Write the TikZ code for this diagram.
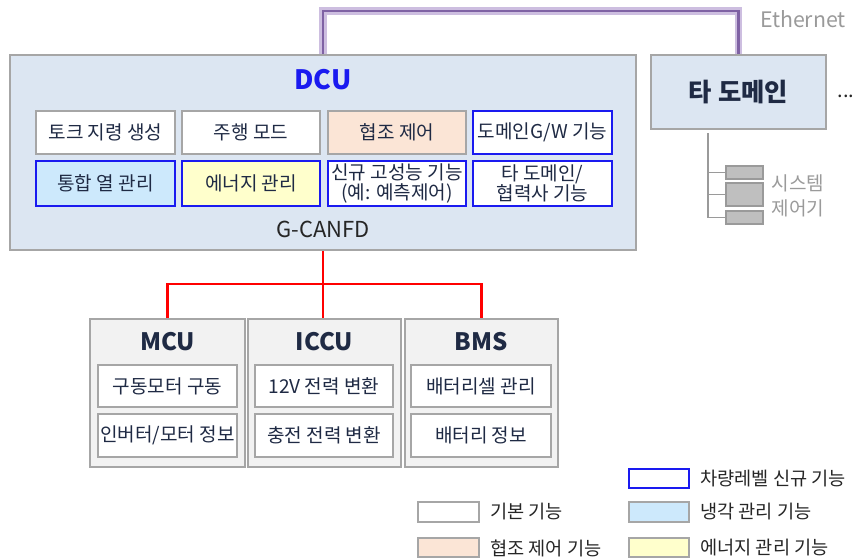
\documentclass[tikz,border=0pt]{standalone}
\usepackage{fontspec}
\setmainfont{Noto Sans CJK KR}
\usetikzlibrary{fit}
\definecolor{bgblue}{HTML}{DCE6F2}
\definecolor{bordgray}{HTML}{A6A6A6}
\definecolor{dblue}{HTML}{1A1AF0}
\definecolor{navy}{HTML}{1F2A44}
\definecolor{peach}{HTML}{FBE5D6}
\definecolor{ltblue}{HTML}{CDE9FC}
\definecolor{ltyel}{HTML}{FFFFCC}
\definecolor{modgray}{HTML}{F2F2F2}
\definecolor{ethlight}{HTML}{CDBEE0}
\definecolor{ethdark}{HTML}{7F62A4}
\definecolor{txtgray}{HTML}{9A9A9A}
\definecolor{sysgray}{HTML}{BFBFBF}
\begin{document}
\begin{tikzpicture}[x=0.75pt,y=-0.75pt,
  fs/.style={font=\fontsize{14.3}{15.5}\selectfont, text=navy, align=center, inner sep=0pt},
  box/.style={inner sep=0pt, line width=1.5pt},
  gbox/.style={box, draw=bordgray, fill=white},
  bbox/.style={box, draw=dblue, fill=white},
  panel/.style={inner sep=0pt, line width=1.5pt, draw=bordgray, fill=bgblue},
  modbox/.style={inner sep=0pt, line width=1.5pt, draw=bordgray, fill=modgray},
  modtitle/.style={font=\bfseries\fontsize{18}{18}\selectfont, text=navy},
  redbus/.style={draw=red, line width=2.2pt},
  legtxt/.style={font=\fontsize{14}{15.5}\selectfont, text=black!85, anchor=west, inner sep=0pt},
  sysbox/.style={inner sep=0pt, line width=1pt, draw=txtgray, fill=sysgray},
  tree/.style={draw=txtgray, line width=1pt}
]
\useasboundingbox (0,0) rectangle (857,560);

% DCU panel
\node[panel, fit={(10,55)(636,250)}] (dcu) {};
\node[font=\bfseries\fontsize{20}{20}\selectfont, text=dblue] (dcut) at (323,80) {DCU};
\node[gbox, fit={(36,111)(175,154)}] (tq) {};
\node[gbox, fit={(182,111)(320,154)}] (dm) {};
\node[gbox, fill=peach, fit={(328,111)(466,154)}] (co) {};
\node[bbox, fit={(473,111)(612,154)}] (gw) {};
\node[bbox, fill=ltblue, fit={(36,161)(175,206)}] (th) {};
\node[bbox, fill=ltyel, fit={(182,161)(320,206)}] (en) {};
\node[bbox, fit={(328,161)(466,206)}] (nw) {};
\node[bbox, fit={(473,161)(612,206)}] (od) {};
\node[fs] (tqt) at (tq.center) {토크 지령 생성};
\node[fs] (dmt) at (dm.center) {주행 모드};
\node[fs] (cot) at (co.center) {협조 제어};
\node[fs] (gwt) at (gw.center) {도메인G/W 기능};
\node[fs] (tht) at (th.center) {통합 열 관리};
\node[fs] (ent) at (en.center) {에너지 관리};
\node[fs] (nwt) at (nw.center) {신규 고성능 기능\\(예: 예측제어)};
\node[fs] (odt) at (od.center) {타 도메인/\\협력사 기능};
\node[font=\fontsize{16.5}{16.5}\selectfont, text=black!85] (can) at (323,229) {G-CANFD};

% Other domain
\node[panel, fit={(651,55)(826,129)}] (ta) {};
\node[font=\bfseries\fontsize{19}{19}\selectfont, text=navy] (tat) at (ta.center) {타 도메인};
\node[font=\fontsize{15}{15}\selectfont, text=black!85] (dots) at (846,96) {...};

% Ethernet
\draw[ethlight, line width=5.4pt] (dcu.north) -- ++(0,-43) coordinate (e1) -| (ta.north);
\draw[ethdark, line width=2.2pt] (dcu.north) -- (e1) -| (ta.north);
\node[font=\fontsize{16}{16}\selectfont, text=txtgray] (eth) at (803,19) {Ethernet};

% System controllers
\coordinate (t0) at (708,133);
\node[sysbox, fit={(726,166)(763,179)}] (s1) {};
\node[sysbox, fit={(726,183)(763,206)}] (s2) {};
\node[sysbox, fit={(726,211)(763,224)}] (s3) {};
\draw[tree] (t0) |- (s3.west);
\draw[tree] (t0) |- (s1.west);
\draw[tree] (t0) |- (s2.west);
\node[font=\fontsize{14.3}{19}\selectfont, text=txtgray, align=center] (sys) at (798,196) {시스템\\제어기};

% Bottom modules
\node[modbox, fit={(90,319)(245,467)}] (mcu) {};
\node[modbox, fit={(248,319)(401,467)}] (iccu) {};
\node[modbox, fit={(405,319)(558,467)}] (bms) {};
\node[modtitle] (mcut) at (167.5,342) {MCU};
\node[modtitle] (iccut) at (324.5,342) {ICCU};
\node[modtitle] (bmst) at (481.5,342) {BMS};
\node[gbox, fit={(98,365)(237,407)}] (m1) {};
\node[gbox, fit={(98,414)(237,457)}] (m2) {};
\node[gbox, fit={(255,365)(393,407)}] (i1) {};
\node[gbox, fit={(255,414)(393,457)}] (i2) {};
\node[gbox, fit={(411,365)(551,407)}] (b1) {};
\node[gbox, fit={(411,414)(551,457)}] (b2) {};
\node[fs] (m1t) at (m1.center) {구동모터 구동};
\node[fs] (m2t) at (m2.center) {인버터/모터 정보};
\node[fs] (i1t) at (i1.center) {12V 전력 변환};
\node[fs] (i2t) at (i2.center) {충전 전력 변환};
\node[fs] (b1t) at (b1.center) {배터리셀 관리};
\node[fs] (b2t) at (b2.center) {배터리 정보};

% Red bus
\draw[redbus] (dcu.south) -- ++(0,33) coordinate (bj);
\draw[redbus] (mcu.north) |- (bj) -| (bms.north);
\draw[redbus] (bj) -- (bj |- iccu.north);

% Legend
\node[bbox, fit={(629,469)(689,488)}] (l1) {};
\node[legtxt] (l1t) at (700,479) {차량레벨 신규 기능};
\node[gbox, fit={(418,502)(479,522)}] (l2) {};
\node[legtxt] (l2t) at (490,512) {기본 기능};
\node[gbox, fill=ltblue, fit={(629,502)(689,522)}] (l3) {};
\node[legtxt] (l3t) at (700,512) {냉각 관리 기능};
\node[gbox, fill=peach, fit={(418,538)(479,557)}] (l4) {};
\node[legtxt] (l4t) at (490,548) {협조 제어 기능};
\node[gbox, fill=ltyel, fit={(629,538)(689,557)}] (l5) {};
\node[legtxt] (l5t) at (700,548) {에너지 관리 기능};
\end{tikzpicture}
\end{document}
